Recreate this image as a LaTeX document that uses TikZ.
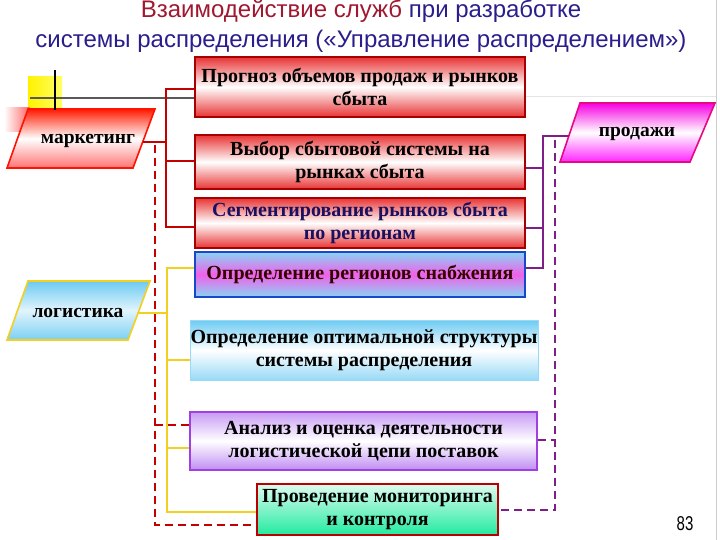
\documentclass[tikz,border=0pt]{standalone}
\usepackage{fontspec}
\setmainfont{Liberation Serif}
\newfontfamily\titlefont{Liberation Sans}
\definecolor{ttlred}{HTML}{A01830}
\definecolor{ttlblue}{HTML}{2A1E8C}
\definecolor{lnred}{HTML}{C40000}
\definecolor{lnyel}{HTML}{F2D020}
\definecolor{lnpur}{HTML}{7E1E86}
\definecolor{bxred}{HTML}{E83434}
\definecolor{bxredd}{HTML}{A80000}
\definecolor{skyb}{HTML}{6CCAF2}
\definecolor{magb}{HTML}{F060E8}
\definecolor{blueb}{HTML}{1848C8}
\definecolor{vio}{HTML}{B070F0}
\definecolor{viod}{HTML}{A040E0}
\definecolor{grn}{HTML}{22EAA0}
\definecolor{navytx}{HTML}{1A1060}
\begin{document}
\begin{tikzpicture}[x=1pt,y=-1pt,
  box/.style={line width=1.4pt, align=center, inner sep=0pt,
    font=\bfseries\fontsize{20}{23}\selectfont},
  redbox/.style={box, draw=bxredd, top color=bxred, bottom color=bxred, middle color=white},
  redline/.style={draw=lnred, line width=2pt},
  reddash/.style={draw=lnred, line width=2.4pt, dash pattern=on 8pt off 5pt},
  yelline/.style={draw=lnyel, line width=2pt},
  purline/.style={draw=lnpur, line width=2pt},
  purdash/.style={draw=lnpur, line width=2pt, dash pattern=on 8pt off 5pt},
  lbl/.style={font=\bfseries\fontsize{19.5}{21}\selectfont}]
\useasboundingbox (0,0) rectangle (720,540);
\fill[white] (0,0) rectangle (720,540);

% title
\node[anchor=base, font=\titlefont\fontsize{24}{27}\selectfont] (t1) at (361,18)
  {\textcolor{ttlred}{Взаимодействие служб} \textcolor{ttlblue}{при разработке}};
\node[anchor=base, font=\titlefont\fontsize{24}{27}\selectfont, text=ttlblue] (t2) at (361,48)
  {системы распределения («Управление распределением»)};

% decorations
\draw[gray!40, line width=0.8pt] (716,0) -- (716,540);
\draw[gray!20, line width=1pt] (525,97) -- (716,97);
\shade[left color=yellow!90!orange, right color=yellow!60!white] (28,77) rectangle (62,108);
\shade[left color=white, right color=red!60] (4,108) rectangle (30,132);

% boxes
\node[redbox, minimum width=330pt, minimum height=60pt] (b1) at (360,87)
  {Прогноз объемов продаж и рынков\\сбыта};
\node[redbox, minimum width=330pt, minimum height=54pt] (b2) at (360,162)
  {Выбор сбытовой системы на\\рынках сбыта};
\node[redbox, minimum width=330pt, minimum height=50pt, text=navytx] (b3) at (360,223)
  {Сегментирование рынков сбыта\\по регионам};
\node[box, draw=blueb, top color=skyb!80, bottom color=skyb!80, middle color=magb,
  minimum width=330pt, minimum height=45pt, text=black!80!red] (b4) at (360,274.5)
  {Определение регионов снабжения};
\node[box, draw=skyb!70, line width=0.6pt, top color=skyb, bottom color=skyb!70, middle color=white,
  minimum width=348pt, minimum height=60pt] (b5) at (364,350)
  {Определение оптимальной структуры\\системы распределения};
\node[box, draw=viod, top color=vio!70, bottom color=vio!80, middle color=white,
  minimum width=347pt, minimum height=58pt] (b6) at (363.5,441)
  {Анализ и оценка деятельности\\логистической цепи поставок};
\node[box, draw=bxredd!80!red, top color=white!85!grn, bottom color=grn,
  minimum width=241pt, minimum height=51pt] (b7) at (377.5,509.5)
  {Проведение мониторинга\\и контроля};

% parallelograms
\draw[draw=red!85!orange, line width=1.6pt, top color=red!80!orange, bottom color=red!55, middle color=white]
  (28,109) -- (155,109) -- (133,168) -- (7,168) -- cycle;
\node[lbl] (mk) at (88,141) {маркетинг};
\draw[draw=lnyel, line width=1.6pt, top color=skyb, bottom color=skyb!90, middle color=white!80!skyb]
  (28,281) -- (150,281) -- (128,340) -- (7,340) -- cycle;
\node[lbl] (lg) at (78,313) {логистика};
\draw[draw=magenta!90!purple, line width=1.6pt, top color=magenta!85!purple, bottom color=magenta!85, middle color=white]
  (580,103) -- (715,103) -- (690,162) -- (560,162) -- cycle;
\node[lbl] (ps) at (637,134) {продажи};

% decorative lines over yellow square
\draw[gray!70!black, line width=2pt] (30,98) -- (b1.west |- 30,98);
\draw[black, line width=1.5pt] (55,70) -- (55,110);

% coordinates
\coordinate (mkR) at (143,142);
\coordinate (rJ) at (166,142);
\coordinate (r1) at (166,89);
\coordinate (r2) at (166,161);
\coordinate (r3) at (166,227);
\coordinate (d1) at (155,145);
\coordinate (d2) at (155,525);
\coordinate (d3) at (155,425);
\coordinate (lgR) at (138,313);
\coordinate (yJ) at (167,313);
\coordinate (y1) at (167,268);
\coordinate (y5) at (167,360);
\coordinate (y6) at (167,448);
\coordinate (y7) at (167,512);
\coordinate (psL) at (569,136);
\coordinate (p1) at (543,136);
\coordinate (p2) at (543,168);
\coordinate (p3) at (543,228);
\coordinate (p4) at (543,268);
\coordinate (q1) at (555,140);
\coordinate (q2) at (555,510);
\coordinate (q3) at (555,440);

% red connectors
\draw[reddash] (d1) -- (d2) -- (b7.west |- d2);
\draw[reddash] (d3) -- (b6.west |- d3);
\draw[redline] (mkR) -- (rJ);
\draw[redline] (b1.west |- r1) -- (r1) -- (r3) -- (b3.west |- r3);
\draw[redline] (r2) -- (b2.west |- r2);

% yellow connectors
\draw[yelline] (lgR) -- (yJ);
\draw[yelline] (b4.west |- y1) -- (y1) -- (y7) -- (b7.west |- y7);
\draw[yelline] (y5) -- (b5.west |- y5);
\draw[yelline] (y6) -- (b6.west |- y6);

% purple connectors
\draw[purdash] (q1) -- (q2) -- (b7.east |- q2);
\draw[purdash] (b6.east |- q3) -- (q3);
\draw[purline] (psL) -- (p1) -- (p4) -- (b4.east |- p4);
\draw[purline] (p2) -- (b2.east |- p2);
\draw[purline] (p3) -- (b3.east |- p3);

% page number
\node[font=\titlefont\fontsize{20}{22}\selectfont, xscale=0.75] (pg) at (685,524) {83};
\end{tikzpicture}
\end{document}
